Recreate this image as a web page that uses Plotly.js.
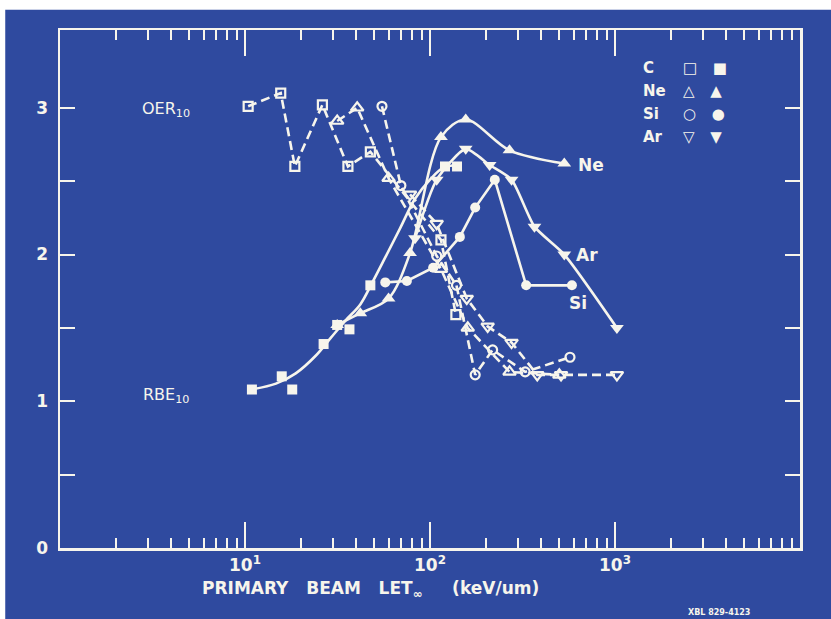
<!DOCTYPE html>
<html>
<head>
<meta charset="utf-8">
<script src="https://cdn.plot.ly/plotly-3.0.1.min.js"></script>
<style>html,body{margin:0;padding:0;background:#fff;} #chart{width:831px;height:619px;}</style>
</head>
<body>
<div id="chart"></div>
<script>
// ---- OER10 (open symbols, dashed lines) ----
const cOpenLET = [10.4, 15.6, 18.6, 26.2, 36.0, 47.6, 114.6, 138];
const cOpenOER = [3.01, 3.10, 2.60, 3.02, 2.60, 2.70, 2.10, 1.59];
const neOpenLET = [31.5, 40.4, 59.7, 114.6, 160, 269, 500];
const neOpenOER = [2.91, 3.00, 2.52, 1.90, 1.50, 1.20, 1.18];
const siOpenLET = [55, 69.6, 108.7, 139, 175.5, 218, 327, 571];
const siOpenOER = [3.01, 2.47, 1.99, 1.79, 1.18, 1.35, 1.20, 1.30];
const arOpenLET = [78, 108.7, 158, 205, 276, 380, 511, 1024];
const arOpenOER = [2.41, 2.21, 1.70, 1.51, 1.40, 1.18, 1.18, 1.18];

// ---- RBE10 (filled symbols, solid lines) ----
const cFillLET = [10.9, 15.8, 18.0, 26.6, 31.5, 36.7, 47.6, 120.5, 140];
const cFillRBE = [1.08, 1.17, 1.08, 1.39, 1.52, 1.49, 1.79, 2.60, 2.60];
// hand-drawn fit curve for carbon
const cCurveLET = [10.8, 14.7, 18.8, 24.1, 29.0, 34.9, 42.0, 48.8, 57.3, 69.0, 83.0, 100, 117.5, 139.7];
const cCurveRBE = [1.08, 1.12, 1.19, 1.31, 1.43, 1.55, 1.66, 1.81, 1.98, 2.18, 2.38, 2.51, 2.59, 2.61];
const neFillLET = [31.5, 42.0, 59.7, 78.0, 114.6, 156, 269, 532];
const neFillRBE = [1.52, 1.60, 1.70, 2.01, 2.80, 2.92, 2.71, 2.62];
const siFillLET = [57.3, 75.0, 104, 145, 175.5, 224, 331, 585];
const siFillRBE = [1.81, 1.82, 1.91, 2.12, 2.32, 2.51, 1.79, 1.79];
const arFillLET = [83, 108.7, 156, 210, 276, 367, 532, 1024];
const arFillRBE = [2.11, 2.51, 2.72, 2.61, 2.51, 2.19, 2.00, 1.50];

const xTickVals = [10, 100, 1000];
const xTickText = ['10<sup>1</sup>', '10<sup>2</sup>', '10<sup>3</sup>'];
const yTickVals = [0, 1, 2, 3];

const W = '#f7f5ec';
const BG = '#2f4a9f';
const FONT = 'DejaVu Sans, sans-serif';

function minorLog() {
  const v = [];
  for (let d = 1; d <= 1000; d *= 10) for (let k = 2; k <= 9; k++) v.push(k * d);
  return v;
}

const dash = {color: W, width: 2.6, dash: '9px,5px'};
const solid = {color: W, width: 2.6};
const traces = [
  {x: cOpenLET, y: cOpenOER, mode: 'lines+markers', line: dash,
   marker: {symbol: 'square-open', size: 9, color: W, line: {width: 2.2, color: W}}},
  {x: neOpenLET, y: neOpenOER, mode: 'lines+markers', line: dash,
   marker: {symbol: 'triangle-up-open', size: 11, color: W, line: {width: 2.2, color: W}}},
  {x: siOpenLET, y: siOpenOER, mode: 'lines+markers', line: dash,
   marker: {symbol: 'circle-open', size: 9, color: W, line: {width: 2.2, color: W}}},
  {x: arOpenLET, y: arOpenOER, mode: 'lines+markers', line: dash,
   marker: {symbol: 'triangle-down-open', size: 11, color: W, line: {width: 2.2, color: W}}},
  {x: cCurveLET, y: cCurveRBE, mode: 'lines', line: Object.assign({shape: 'spline'}, solid)},
  {x: cFillLET, y: cFillRBE, mode: 'markers',
   marker: {symbol: 'square', size: 10, color: W}},
  {x: neFillLET, y: neFillRBE, mode: 'lines+markers', line: Object.assign({shape: 'spline', smoothing: 0.9}, solid),
   marker: {symbol: 'triangle-up', size: 12, color: W}},
  {x: siFillLET, y: siFillRBE, mode: 'lines+markers', line: solid,
   marker: {symbol: 'circle', size: 10, color: W}},
  {x: arFillLET, y: arFillRBE, mode: 'lines+markers', line: Object.assign({shape: 'spline', smoothing: 0.6}, solid),
   marker: {symbol: 'triangle-down', size: 12, color: W}}
];

const tf = {family: FONT, size: 17, color: W, weight: 'bold'};
const ann = (x, y, text, opts) => Object.assign({x: x, y: y, text: text, showarrow: false,
  xref: 'x', yref: 'y', font: {family: FONT, size: 16, color: W}}, opts || {});
const legFont = {family: FONT, size: 15, color: W, weight: 'bold'};
const symFont = {family: FONT, size: 15, color: W, weight: 'bold'};

const layout = {
  width: 831, height: 619,
  margin: {l: 60, r: 31, t: 30, b: 71},
  paper_bgcolor: BG, plot_bgcolor: BG,
  showlegend: false,
  xaxis: {
    type: 'log', range: [0, 4], showgrid: false, zeroline: false,
    showline: true, linecolor: W, linewidth: 2.5, mirror: 'ticks',
    tickmode: 'array', tickvals: xTickVals, ticktext: xTickText,
    ticks: 'inside', ticklen: 26, tickwidth: 2, tickcolor: W,
    tickfont: tf,
    minor: {tickmode: 'array', tickvals: minorLog(), ticks: 'inside', ticklen: 10, tickwidth: 2, tickcolor: W, showgrid: false}
  },
  yaxis: {
    range: [0, 3.53], showgrid: false, zeroline: false,
    showline: true, linecolor: W, linewidth: 2.5, mirror: 'ticks',
    tickmode: 'array', tickvals: yTickVals,
    ticks: 'inside', ticklen: 15, tickwidth: 2, tickcolor: W,
    tickfont: tf, ticklabelstandoff: 6,
    minor: {tickmode: 'array', tickvals: [0.5, 1.5, 2.5], ticks: 'inside', ticklen: 15, tickwidth: 2, tickcolor: W, showgrid: false}
  },
  shapes: [
    {type: 'rect', xref: 'paper', yref: 'paper', x0: -0.1, x1: 1.1, y0: 1.039, y1: 1.07, fillcolor: '#ffffff', line: {width: 0}, layer: 'below'},
    {type: 'rect', xref: 'paper', yref: 'paper', x0: -0.1, x1: -0.074, y0: -0.2, y1: 1.07, fillcolor: '#ffffff', line: {width: 0}, layer: 'below'}
  ],
  annotations: [
    ann(0.43, 2.99, 'OER<sub>10</sub>', {xanchor: 'left'}),
    ann(0.44, 1.04, 'RBE<sub>10</sub>', {xanchor: 'left'}),
    ann(2.79, 2.61, 'Ne', {xanchor: 'left', font: {family: FONT, size: 17, color: W, weight: 'bold'}}),
    ann(2.78, 2.00, 'Ar', {xanchor: 'left', font: {family: FONT, size: 17, color: W, weight: 'bold'}}),
    ann(2.74, 1.67, 'Si', {xanchor: 'left', font: {family: FONT, size: 17, color: W, weight: 'bold'}}),
    ann(3.14, 3.27, 'C', {xanchor: 'left', font: legFont}),
    ann(3.14, 3.115, 'Ne', {xanchor: 'left', font: legFont}),
    ann(3.14, 2.958, 'Si', {xanchor: 'left', font: legFont}),
    ann(3.14, 2.80, 'Ar', {xanchor: 'left', font: legFont}),
    ann(3.355, 3.27, '□&nbsp;&nbsp;&nbsp;■', {xanchor: 'left', font: symFont}),
    ann(3.355, 3.115, '△&nbsp;&nbsp;&nbsp;▲', {xanchor: 'left', font: symFont}),
    ann(3.355, 2.958, '○&nbsp;&nbsp;&nbsp;●', {xanchor: 'left', font: symFont}),
    ann(3.355, 2.80, '▽&nbsp;&nbsp;&nbsp;▼', {xanchor: 'left', font: symFont}),
    {xref: 'paper', yref: 'paper', x: 0.189, y: -0.08, xanchor: 'left', yanchor: 'middle', showarrow: false,
     text: 'PRIMARY&nbsp;&nbsp; BEAM&nbsp;&nbsp; LET<sub>∞</sub>&nbsp;&nbsp;&nbsp;&nbsp; (keV/um)', font: {family: FONT, size: 17, color: W, weight: 'bold'}},
    {xref: 'paper', yref: 'paper', x: 0.89, y: -0.124, xanchor: 'center', yanchor: 'middle', showarrow: false,
     text: 'XBL 829-4123', font: {family: FONT, size: 8, color: W, weight: 'bold'}}
  ]
};

Plotly.newPlot('chart', traces, layout, {staticPlot: true, displayModeBar: false});
</script>
</body>
</html>
